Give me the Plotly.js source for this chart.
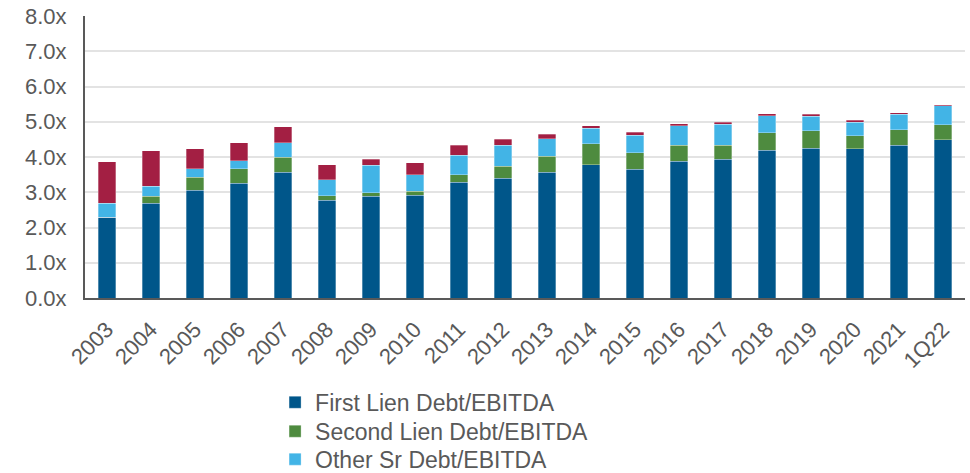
<!DOCTYPE html>
<html>
<head>
<meta charset="utf-8">
<script src="https://cdn.plot.ly/plotly-3.0.1.min.js"></script>
<style>html,body{margin:0;padding:0;background:#fff;}#chart{width:970px;height:473px;}</style>
</head>
<body>
<div id="chart"></div>
<script>
const categories = ["2003","2004","2005","2006","2007","2008","2009","2010","2011","2012","2013","2014","2015","2016","2017","2018","2019","2020","2021","1Q22"];
const firstLien  = [2.29,2.69,3.06,3.26,3.57,2.77,2.88,2.92,3.29,3.40,3.57,3.78,3.65,3.88,3.93,4.19,4.25,4.23,4.33,4.49];
const secondLien = [0.00,0.20,0.37,0.41,0.42,0.13,0.10,0.11,0.21,0.34,0.45,0.59,0.47,0.45,0.40,0.50,0.49,0.37,0.45,0.42];
const otherSr    = [0.40,0.28,0.24,0.23,0.41,0.46,0.79,0.46,0.55,0.59,0.50,0.45,0.50,0.56,0.60,0.48,0.42,0.39,0.43,0.54];
const subDebt    = [1.18,1.01,0.57,0.50,0.46,0.42,0.16,0.35,0.28,0.17,0.12,0.07,0.08,0.06,0.06,0.06,0.05,0.05,0.05,0.03];
const seriesNames = ["First Lien Debt/EBITDA","Second Lien Debt/EBITDA","Other Sr Debt/EBITDA","Subordinated Debt/EBITDA"];

const colors = ["#00568A","#4E8B3F","#42B4E6","#A31F43"];
const vals = [firstLien, secondLien, otherSr, subDebt];
const legendIds = ["legend","legend2","legend3",null];
const family = "Liberation Sans, Arial, sans-serif";
const tickFont = {family: family, color: "#595959", size: 22};
const legendFont = {family: family, color: "#595959", size: 23};

const traces = vals.map((v, i) => {
  const t = {
    type: "bar",
    x: categories,
    y: v,
    name: seriesNames[i],
    marker: {color: colors[i], line: {width: 0.6, color: "rgba(255,255,255,0.5)"}},
    showlegend: i < 3,
    hoverinfo: "x+y+name"
  };
  if (legendIds[i]) t.legend = legendIds[i];
  return t;
});

const H = 473, T = 16, B = 174.5;
const plotH = H - T - B;
const zeroPx = H - B;
const py = px => (zeroPx - px) / plotH;

function leg(ypx) {
  return {
    orientation: "v",
    x: 0.216, xanchor: "left",
    y: py(ypx), yanchor: "middle",
    font: legendFont,
    itemwidth: 30,
    bgcolor: "rgba(0,0,0,0)",
    borderwidth: 0
  };
}

const layout = {
  width: 970, height: H,
  margin: {l: 85, r: 5, t: T, b: B, autoexpand: false},
  barmode: "stack",
  bargap: 0.6,
  paper_bgcolor: "#fff",
  plot_bgcolor: "#fff",
  font: tickFont,
  xaxis: {
    type: "category",
    tickangle: -45,
    showline: true, linecolor: "#595959", linewidth: 2,
    showgrid: false, ticks: "",
    tickfont: tickFont,
    ticklabelstandoff: 8,
    automargin: false
  },
  yaxis: {
    range: [0, 8], dtick: 1,
    tickformat: ".1f", ticksuffix: "x",
    showline: true, linecolor: "#595959", linewidth: 2,
    showgrid: true, gridcolor: "#e3e3e3", gridwidth: 2,
    zeroline: false, ticks: "",
    tickfont: tickFont,
    ticklabelstandoff: 12,
    automargin: false
  },
  legend: leg(403),
  legend2: leg(432),
  legend3: leg(460),
  showlegend: true
};

Plotly.newPlot("chart", traces, layout, {displayModeBar: false, staticPlot: true});
</script>
</body>
</html>
